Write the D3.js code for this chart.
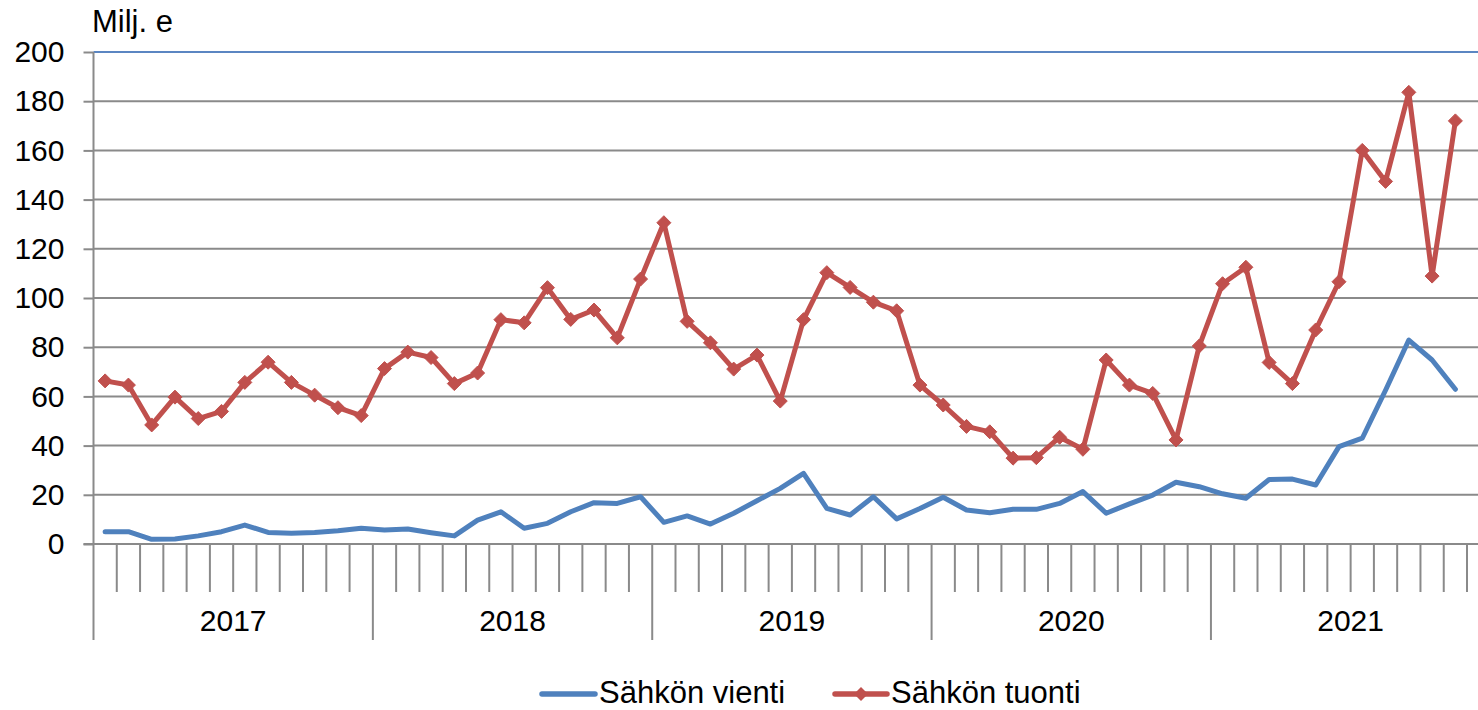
<!DOCTYPE html>
<html>
<head>
<meta charset="utf-8">
<script src="https://cdn.jsdelivr.net/npm/d3@7"></script>
<style>
  html, body { margin: 0; padding: 0; background: #fff; overflow: hidden; }
  svg { display: block; font-family: "Liberation Sans", Arial, sans-serif; }
</style>
</head>
<body>
<svg id="chart" width="1478" height="710"></svg>
<script>
// ---- Data ----
const years = ["2017", "2018", "2019", "2020", "2021"];
const monthsPerYear = 12;
const yTicks = [0, 20, 40, 60, 80, 100, 120, 140, 160, 180, 200];
const unitLabel = "Milj. e";
const seriesNames = ["Sähkön vienti", "Sähkön tuonti"];

// Sähkön vienti (export), monthly Jan 2017 – Dec 2021 (Dec 2021 missing)
const vienti = [5.0, 5.0, 1.9, 2.0, 3.3, 5.0, 7.7, 4.7, 4.4, 4.7, 5.4, 6.4,
  5.7, 6.1, 4.6, 3.3, 9.7, 13.1, 6.4, 8.4, 13.1, 16.8, 16.5, 19.2,
  8.8, 11.4, 8.1, 12.5, 17.6, 22.6, 28.7, 14.5, 11.8, 19.2, 10.2, 14.4,
  19.0, 13.8, 12.7, 14.1, 14.1, 16.5, 21.3, 12.5, 16.3, 19.9, 25.1, 23.3,
  20.4, 18.6, 26.2, 26.4, 24.0, 39.6, 43.0, 62.5, 82.9, 74.8, 62.9, null];

// Sähkön tuonti (import)
const tuonti = [66.3, 64.6, 48.4, 59.7, 51.0, 53.9, 65.7, 73.9, 65.7, 60.5, 55.4, 52.2,
  71.3, 78.0, 75.8, 65.2, 69.5, 91.2, 89.9, 104.2, 91.3, 95.1, 83.8, 107.7,
  130.6, 90.5, 81.8, 71.1, 76.8, 58.1, 91.2, 110.3, 104.3, 98.3, 94.8, 64.6,
  56.5, 47.8, 45.6, 34.9, 35.1, 43.4, 38.5, 74.8, 64.6, 61.2, 42.3, 80.5,
  105.8, 112.5, 73.8, 65.2, 87.0, 106.6, 160.0, 147.4, 183.6, 108.9, 172.0, null];

(function () {
// ---- Layout ----
const W = 1478, H = 710;
const pLeft = 93.5, pTop = 52, pBottom = 544;
const band = 23.28;
const categories = years.flatMap(yr => d3.range(1, monthsPerYear + 1).map(m => yr + "-" + m));
const pRight = pLeft + categories.length * band;

const blue = "#4F81BD", red = "#C0504D", gridCol = "#8a8a8a";
const svg = d3.select("#chart");

const x = d3.scaleBand().domain(categories).range([pLeft, pRight]).padding(0);
const y = d3.scaleLinear().domain([0, 200]).range([pBottom, pTop]);

// gridlines
svg.append("g").selectAll("line").data(yTicks.filter(t => t > 0)).join("line")
  .attr("x1", pLeft).attr("x2", W + 20)
  .attr("y1", d => y(d)).attr("y2", d => y(d))
  .attr("stroke", d => d === 200 ? "#5b86c2" : gridCol)
  .attr("stroke-width", 2);

// y axis
const yAxis = svg.append("g").attr("transform", `translate(${pLeft},0)`)
  .call(d3.axisLeft(y).tickValues(yTicks).tickSize(10).tickPadding(19));
yAxis.select(".domain").remove();
yAxis.selectAll(".tick line").attr("stroke", gridCol).attr("stroke-width", 2);
yAxis.selectAll(".tick text").attr("font-size", 30).attr("fill", "#000")
  .attr("font-family", "Liberation Sans, Arial, sans-serif");
svg.append("line").attr("x1", pLeft).attr("x2", pLeft).attr("y1", pTop).attr("y2", pBottom)
  .attr("stroke", gridCol).attr("stroke-width", 2);

// x axis line
svg.append("line").attr("x1", pLeft - 10).attr("x2", W + 20).attr("y1", pBottom).attr("y2", pBottom)
  .attr("stroke", gridCol).attr("stroke-width", 2);

// month ticks & year separators
svg.append("g").selectAll("line").data(d3.range(categories.length + 1)).join("line")
  .attr("x1", i => i < categories.length ? x(categories[i]) : pRight)
  .attr("x2", i => i < categories.length ? x(categories[i]) : pRight)
  .attr("y1", pBottom)
  .attr("y2", i => i % monthsPerYear === 0 ? 640 : 592)
  .attr("stroke", gridCol).attr("stroke-width", 2);

// year labels
svg.append("g").selectAll("text").data(years).join("text")
  .attr("x", (yr, k) => {
    const a = x(categories[k * monthsPerYear]);
    const b = x(categories[(k + 1) * monthsPerYear - 1]) + band;
    return (a + b) / 2;
  })
  .attr("y", 631).attr("text-anchor", "middle").attr("font-size", 30).attr("fill", "#000")
  .text(d => d);

// unit label
svg.append("text").attr("x", 92).attr("y", 32).attr("font-size", 31).attr("fill", "#000").text(unitLabel);

// lines
const cx = i => x(categories[i]) + band / 2;
const line = d3.line().defined(d => d.v != null).x(d => cx(d.i)).y(d => y(d.v));
const vData = vienti.map((v, i) => ({ i, v }));
const tData = tuonti.map((v, i) => ({ i, v }));

svg.append("path").datum(vData).attr("d", line).attr("fill", "none")
  .attr("stroke", blue).attr("stroke-width", 5).attr("stroke-linejoin", "round").attr("stroke-linecap", "round");
svg.append("path").datum(tData).attr("d", line).attr("fill", "none")
  .attr("stroke", red).attr("stroke-width", 5).attr("stroke-linejoin", "round").attr("stroke-linecap", "round");

const diamond = "M0,-7L7,0L0,7L-7,0Z";
svg.append("g").selectAll("path").data(tData.filter(d => d.v != null)).join("path")
  .attr("d", diamond)
  .attr("transform", d => `translate(${cx(d.i)},${y(d.v)})`)
  .attr("fill", red).attr("stroke", red).attr("stroke-width", 1);

// legend
const lg = svg.append("g");
lg.append("line").attr("x1", 542).attr("x2", 595).attr("y1", 694).attr("y2", 694)
  .attr("stroke", blue).attr("stroke-width", 5.5).attr("stroke-linecap", "round");
lg.append("text").attr("x", 599).attr("y", 703).attr("font-size", 31).attr("fill", "#000").text(seriesNames[0]);
lg.append("line").attr("x1", 835).attr("x2", 887).attr("y1", 694).attr("y2", 694)
  .attr("stroke", red).attr("stroke-width", 5.5).attr("stroke-linecap", "round");
lg.append("path").attr("d", diamond).attr("transform", "translate(861,694)").attr("fill", red);
lg.append("text").attr("x", 891).attr("y", 703).attr("font-size", 31).attr("fill", "#000").text(seriesNames[1]);
})();
</script>
</body>
</html>
